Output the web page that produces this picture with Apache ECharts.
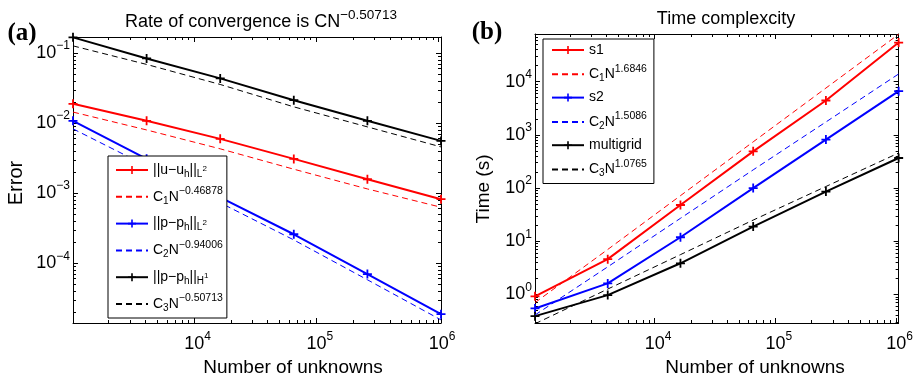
<!DOCTYPE html>
<html><head><meta charset="utf-8">
<script src="https://cdn.jsdelivr.net/npm/echarts@6/dist/echarts.min.js"></script>
<style>html,body{margin:0;padding:0;background:#fff}#c{width:916px;height:380px}</style>
</head><body><div id="c"></div>
<script>
// ---- data ----
const N = [1024, 4096, 16384, 65536, 262144, 1048576];
// panel (a): errors
const errU    = [0.0189, 0.0108, 0.00597, 0.00309, 0.00158, 0.00082];
const errUfit = [0.0144, 0.0080, 0.0043, 0.0022, 0.00115, 0.00063];
const errP    = [0.0108, 0.0031, 0.00087, 0.000259, 7.0e-5, 1.87e-5];
const errPfit = [0.0083, 0.00245, 0.00073, 0.000215, 5.8e-5, 1.55e-5];
const errH    = [0.168, 0.084, 0.0436, 0.0213, 0.0108, 0.00558];
const errHfit = [0.127, 0.069, 0.0357, 0.0171, 0.00885, 0.00458];
// panel (b): time (s)
const timeS1    = [0.92, 4.6, 48, 490, 4440, 54500];
const timeS1fit = [0.70, 7.0, 72, 740, 7600, 78000];
const timeS2    = [0.545, 1.61, 11.9, 100, 815, 6650];
const timeS2fit = [0.41, 3.3, 27, 220, 1750, 14000];
const timeMG    = [0.39, 0.97, 3.85, 18.9, 86, 368];
const timeMGfit = [0.28, 1.26, 5.6, 25, 107, 457];
// ticks / ranges
const xTicks  = [1e4, 1e5, 1e6];
const yTicksA = [1e-4, 1e-3, 1e-2, 1e-1];
const yTicksB = [1, 10, 100, 1e3, 1e4];
const xRange  = [1024, 1048576];
const yRangeA = [1.4e-5, 0.17];
const yRangeB = [0.29, 7.9e4];

// ---- helpers ----
const FONT = "'Liberation Sans', Arial, sans-serif";
function minorVals(lo, hi) {
  const out = [];
  for (let k = Math.floor(Math.log10(lo)); k <= Math.ceil(Math.log10(hi)); k++)
    for (let m = 2; m <= 9; m++) { const v = m * Math.pow(10, k); if (v > lo && v < hi) out.push(v); }
  return out;
}
function expLabel(v) {
  const e = Math.round(Math.log10(v));
  return '{b|10}{s|' + (e < 0 ? '\u2212' + (-e) : e) + '}';
}
const richX = { b: { fontSize: 18, fontFamily: FONT, color: '#000', padding: [0, 0, 0, 7] },
                s: { fontSize: 12, fontFamily: FONT, color: '#000', padding: [0, 0, 14, 0] } };
const richY = { b: { fontSize: 18, fontFamily: FONT, color: '#000' },
                s: { fontSize: 12, fontFamily: FONT, color: '#000', padding: [0, 0, 14, 0] } };

function xAxes(grid, range) {
  const base = { type: 'log', gridIndex: grid, min: range[0], max: range[1], splitLine: { show: false } };
  const minors = minorVals(range[0], range[1]);
  return [
    Object.assign({}, base, { position: 'bottom',
      axisLine: { show: true, lineStyle: { color: '#000', width: 1 } },
      axisTick: { show: true, inside: true, length: 5, customValues: xTicks, lineStyle: { color: '#000' } },
      axisLabel: { show: true, customValues: xTicks, formatter: expLabel, rich: richX, margin: 8 } }),
    Object.assign({}, base, { position: 'bottom', axisLine: { show: false },
      axisTick: { show: true, inside: true, length: 3, customValues: minors, lineStyle: { color: '#000' } },
      axisLabel: { show: false } }),
    Object.assign({}, base, { position: 'top',
      axisLine: { show: true, lineStyle: { color: '#000', width: 1 } },
      axisTick: { show: true, inside: true, length: 5, customValues: xTicks, lineStyle: { color: '#000' } },
      axisLabel: { show: false } }),
    Object.assign({}, base, { position: 'top', axisLine: { show: false },
      axisTick: { show: true, inside: true, length: 3, customValues: minors, lineStyle: { color: '#000' } },
      axisLabel: { show: false } })
  ];
}
function yAxes(grid, range, ticks) {
  const base = { type: 'log', gridIndex: grid, min: range[0], max: range[1], splitLine: { show: false } };
  const minors = minorVals(range[0], range[1]);
  return [
    Object.assign({}, base, { position: 'left',
      axisLine: { show: true, lineStyle: { color: '#000', width: 1 } },
      axisTick: { show: true, inside: true, length: 5, customValues: ticks, lineStyle: { color: '#000' } },
      axisLabel: { show: true, customValues: ticks, formatter: expLabel, rich: richY, margin: 3 } }),
    Object.assign({}, base, { position: 'left', axisLine: { show: false },
      axisTick: { show: true, inside: true, length: 3, customValues: minors, lineStyle: { color: '#000' } },
      axisLabel: { show: false } }),
    Object.assign({}, base, { position: 'right',
      axisLine: { show: true, lineStyle: { color: '#000', width: 1 } },
      axisTick: { show: true, inside: true, length: 5, customValues: ticks, lineStyle: { color: '#000' } },
      axisLabel: { show: false } }),
    Object.assign({}, base, { position: 'right', axisLine: { show: false },
      axisTick: { show: true, inside: true, length: 3, customValues: minors, lineStyle: { color: '#000' } },
      axisLabel: { show: false } })
  ];
}
const PLUS = 'path://M4,0H6V4H10V6H6V10H4V6H0V4H4Z';
function line(name, ai, ys, color, dashed) {
  return {
    name, type: 'line', xAxisIndex: ai, yAxisIndex: ai,
    data: N.map((n, i) => [n, ys[i]]),
    symbol: dashed ? 'none' : PLUS, symbolSize: 9, showSymbol: !dashed,
    lineStyle: { color, width: dashed ? 1 : 2, type: dashed ? [6, 4] : 'solid' },
    itemStyle: { color }, animation: false, silent: true, z: dashed ? 3 : 2
  };
}
const legendText = {
  'uL2':  '{n|||u\u2212u}{sub|h}{n|||}{sub|L}{ss|2}',
  'uFit': '{n|C}{sub|1}{n|N}{sup|\u22120.46878}',
  'pL2':  '{n|||p\u2212p}{sub|h}{n|||}{sub|L}{ss|2}',
  'pFit': '{n|C}{sub|2}{n|N}{sup|\u22120.94006}',
  'pH1':  '{n|||p\u2212p}{sub|h}{n|||}{sub|H}{ss|1}',
  'hFit': '{n|C}{sub|3}{n|N}{sup|\u22120.50713}',
  's1':   '{n|s1}',
  's1Fit':'{n|C}{sub|1}{n|N}{sup|1.6846}',
  's2':   '{n|s2}',
  's2Fit':'{n|C}{sub|2}{n|N}{sup|1.5086}',
  'mg':   '{n|multigrid}',
  'mgFit':'{n|C}{sub|3}{n|N}{sup|1.0765}'
};
const legRich = {
  n:   { fontSize: 14, fontFamily: FONT, color: '#000' },
  sub: { fontSize: 10, fontFamily: FONT, color: '#000', padding: [8, 0, 0, 0] },
  sup: { fontSize: 10.5, fontFamily: FONT, color: '#000', padding: [0, 0, 11, 0] },
  ss:  { fontSize: 8, fontFamily: FONT, color: '#000', padding: [0, 0, 2, 0] }
};
function legend(names, left, top, lh, gap, pad) {
  return {
    orient: 'vertical', left, top, itemWidth: 32, itemHeight: 10, itemGap: gap,
    data: names.map((n, i) => i % 2 === 1
      ? { name: n, itemStyle: { opacity: 0, color: 'rgba(0,0,0,0)', borderWidth: 0 } }
      : { name: n }),
    padding: pad, backgroundColor: '#fff', borderColor: '#000', borderWidth: 1, borderRadius: 0,
    selectedMode: false, formatter: n => legendText[n],
    textStyle: { lineHeight: lh, rich: legRich, fontFamily: FONT, fontSize: 14 }
  };
}
function txt(x, y, text, rich, rot) {
  return { type: 'text', x, y, rotation: rot || 0, silent: true,
    style: { text, rich, align: 'center', verticalAlign: 'middle', textAlign: 'center', textVerticalAlign: 'middle', fill: '#000' } };
}

const chart = echarts.init(document.getElementById('c'), null, { renderer: 'canvas' });
chart.setOption({
  animation: false,
  backgroundColor: '#fff',
  grid: [
    { left: 73, top: 37, width: 368, height: 286, containLabel: false },
    { left: 535, top: 34, width: 367, height: 289, containLabel: false }
  ],
  xAxis: xAxes(0, xRange).concat(xAxes(1, xRange)),
  yAxis: yAxes(0, yRangeA, yTicksA).concat(yAxes(1, yRangeB, yTicksB)),
  legend: [
    legend(['uL2', 'uFit', 'pL2', 'pFit', 'pH1', 'hFit'], 108, 156, 22, 4.8, [3, 4, 3, 7]),
    legend(['s1', 's1Fit', 's2', 's2Fit', 'mg', 'mgFit'], 543, 39, 20, 3.3, [1, 7, 4, 8])
  ],
  series: [
    line('uL2', 0, errU, '#ff0000', false),
    line('uFit', 0, errUfit, '#ff0000', true),
    line('pL2', 0, errP, '#0000ff', false),
    line('pFit', 0, errPfit, '#0000ff', true),
    line('pH1', 0, errH, '#000000', false),
    line('hFit', 0, errHfit, '#000000', true),
    line('s1', 4, timeS1, '#ff0000', false),
    line('s1Fit', 4, timeS1fit, '#ff0000', true),
    line('s2', 4, timeS2, '#0000ff', false),
    line('s2Fit', 4, timeS2fit, '#0000ff', true),
    line('mg', 4, timeMG, '#000000', false),
    line('mgFit', 4, timeMGfit, '#000000', true)
  ],
  graphic: [
    txt(261, 22, '{b|Rate of convergence is CN}{s|\u22120.50713}',
      { b: { fontSize: 18, fontFamily: FONT }, s: { fontSize: 13.5, fontFamily: FONT, padding: [0, 0, 14, 0] } }),
    txt(726, 19, '{b|Time complexcity}', { b: { fontSize: 18, fontFamily: FONT } }),
    txt(22, 34, '{b|(a)}', { b: { fontSize: 25, fontWeight: 'bold', fontFamily: "'Liberation Serif', 'Times New Roman', serif" } }),
    txt(487, 33, '{b|(b)}', { b: { fontSize: 25, fontWeight: 'bold', fontFamily: "'Liberation Serif', 'Times New Roman', serif" } }),
    txt(16, 183, '{b|Error}', { b: { fontSize: 20, fontFamily: FONT } }, Math.PI / 2),
    txt(484, 189, '{b|Time (s)}', { b: { fontSize: 19, fontFamily: FONT } }, Math.PI / 2),
    txt(293, 368, '{b|Number of unknowns}', { b: { fontSize: 19, fontFamily: FONT } }),
    txt(755, 368, '{b|Number of unknowns}', { b: { fontSize: 19, fontFamily: FONT } })
  ]
});
</script></body></html>
